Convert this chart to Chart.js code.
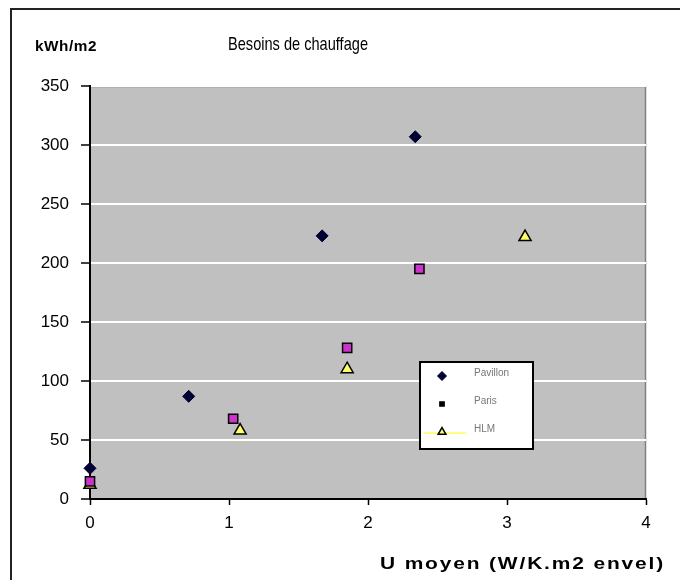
<!DOCTYPE html>
<html>
<head>
<meta charset="utf-8">
<script src="https://cdn.jsdelivr.net/npm/chart.js@4"></script>
<style>
html,body{margin:0;padding:0;background:#fff;}
#wrap{width:680px;height:580px;position:relative;}
</style>
</head>
<body>
<div id="wrap"><canvas id="c" width="680" height="580"></canvas></div>
<script>
const seriesNames = ["Pavillon", "Paris", "HLM"];
const pavillonX = [0, 0.71, 1.67, 2.34];
const pavillonY = [26, 87, 223, 307];
const parisX = [0, 1.03, 1.85, 2.37];
const parisY = [15, 68, 128, 195];
const hlmX = [0, 1.08, 1.85, 3.13];
const hlmY = [12, 58, 110, 222];
const xTicks = [0, 1, 2, 3, 4];
const yTicks = [0, 50, 100, 150, 200, 250, 300, 350];
const chartTitle = "Besoins de chauffage";
const yTitle = "kWh/m2";
const xTitle = "U moyen (W/K.m2 envel)";

const pts = (xs, ys) => xs.map((x, i) => ({x: x, y: ys[i]}));
const FONT = "'Liberation Sans', Arial, sans-serif";

// draw text stretched horizontally to a target width, with given letter spacing
function fitText(ctx, text, x, y, targetWidth, spacing) {
  ctx.letterSpacing = spacing + 'px';
  ctx.textAlign = 'left';
  const w = ctx.measureText(text).width;
  const k = targetWidth / w;
  ctx.save();
  ctx.translate(x, y);
  ctx.scale(k, 1);
  ctx.fillText(text, 0, 0);
  ctx.restore();
  ctx.letterSpacing = '0px';
}

const decor = {
  id: 'decor',
  beforeDraw(chart) {
    const {ctx, chartArea: a} = chart;
    ctx.save();
    ctx.fillStyle = '#c0c0c0';
    ctx.fillRect(a.left, a.top, a.right - a.left, a.bottom - a.top);
    ctx.strokeStyle = '#808080';
    ctx.lineWidth = 1.5;
    ctx.beginPath();
    ctx.moveTo(a.left, a.top + 0.5);
    ctx.lineTo(a.right - 0.5, a.top + 0.5);
    ctx.lineTo(a.right - 0.5, a.bottom);
    ctx.stroke();
    ctx.strokeStyle = '#222';
    ctx.lineWidth = 2;
    ctx.strokeRect(11, 9, 700, 620);
    ctx.restore();
  },
  afterDraw(chart) {
    const {ctx} = chart;
    ctx.save();
    ctx.fillStyle = '#000';
    ctx.textBaseline = 'middle';
    ctx.font = '19px ' + FONT;
    fitText(ctx, chartTitle, 228, 45, 140, 0);
    ctx.font = 'bold 14px ' + FONT;
    fitText(ctx, yTitle, 35, 47, 62, 0.5);
    ctx.font = 'bold 17px ' + FONT;
    fitText(ctx, xTitle, 380, 564, 285, 1.5);
    // legend box
    const lx = 420, ly = 362, lw = 113, lh = 87;
    ctx.fillStyle = '#fff';
    ctx.fillRect(lx, ly, lw, lh);
    ctx.strokeStyle = '#000';
    ctx.lineWidth = 2;
    ctx.strokeRect(lx, ly, lw, lh);
    const rows = [376, 404, 432];
    chart.data.datasets.forEach((ds, i) => {
      const cy = rows[i];
      if (i === 2) {
        ctx.strokeStyle = '#ffff00';
        ctx.lineWidth = 1;
        ctx.beginPath();
        ctx.moveTo(424, cy + 1);
        ctx.lineTo(466, cy + 1);
        ctx.stroke();
      }
      ctx.fillStyle = i === 1 ? '#000' : ds.pointBackgroundColor;
      ctx.strokeStyle = ds.pointBorderColor;
      ctx.lineWidth = ds.pointBorderWidth;
      Chart.helpers.drawPoint(ctx, {pointStyle: ds.pointStyle, radius: i === 1 ? 3 : 4.5, borderWidth: ds.pointBorderWidth}, 442, cy);
      ctx.fillStyle = '#777';
      ctx.font = '10px ' + FONT;
      ctx.textAlign = 'left';
      ctx.fillText(ds.label, 474, cy - 3);
    });
    ctx.restore();
  }
};

new Chart(document.getElementById('c'), {
  type: 'scatter',
  data: {
    datasets: [
      {label: seriesNames[0], data: pts(pavillonX, pavillonY), pointStyle: 'rectRot',
       pointRadius: 6, pointBackgroundColor: '#000033', pointBorderColor: '#000033', pointBorderWidth: 1, clip: false},
      {label: seriesNames[1], data: pts(parisX, parisY), pointStyle: 'rect',
       pointRadius: 6.5, pointBackgroundColor: '#cc33cc', pointBorderColor: '#000', pointBorderWidth: 1.5, clip: false},
      {label: seriesNames[2], data: pts(hlmX, hlmY), pointStyle: 'triangle',
       pointRadius: 7, pointBackgroundColor: '#ffff66', pointBorderColor: '#000', pointBorderWidth: 1.5, clip: false}
    ]
  },
  options: {
    responsive: false,
    animation: false,
    layout: {padding: {left: 0, right: 34, top: 86, bottom: 0}},
    plugins: {legend: {display: false}, title: {display: false}, tooltip: {enabled: false}},
    scales: {
      x: {
        type: 'linear', min: 0, max: 4,
        afterBuildTicks: s => { s.ticks = xTicks.map(v => ({value: v})); },
        afterFit: s => { s.height = 81; },
        grid: {drawOnChartArea: false, drawTicks: true, tickLength: 6, tickColor: '#000', tickWidth: 1.5},
        border: {color: '#000', width: 2},
        ticks: {color: '#000', font: {family: FONT, size: 17}, padding: 8, maxRotation: 0}
      },
      y: {
        type: 'linear', min: 0, max: 350,
        afterBuildTicks: s => { s.ticks = yTicks.map(v => ({value: v})); },
        afterFit: s => { s.width = 90; },
        grid: {color: '#ffffff', lineWidth: 2, drawTicks: true, tickLength: 9, tickColor: '#000', tickWidth: 1.5},
        border: {color: '#000', width: 2},
        ticks: {color: '#000', font: {family: FONT, size: 17}, padding: 12}
      }
    }
  },
  plugins: [decor]
});
</script>
</body>
</html>
